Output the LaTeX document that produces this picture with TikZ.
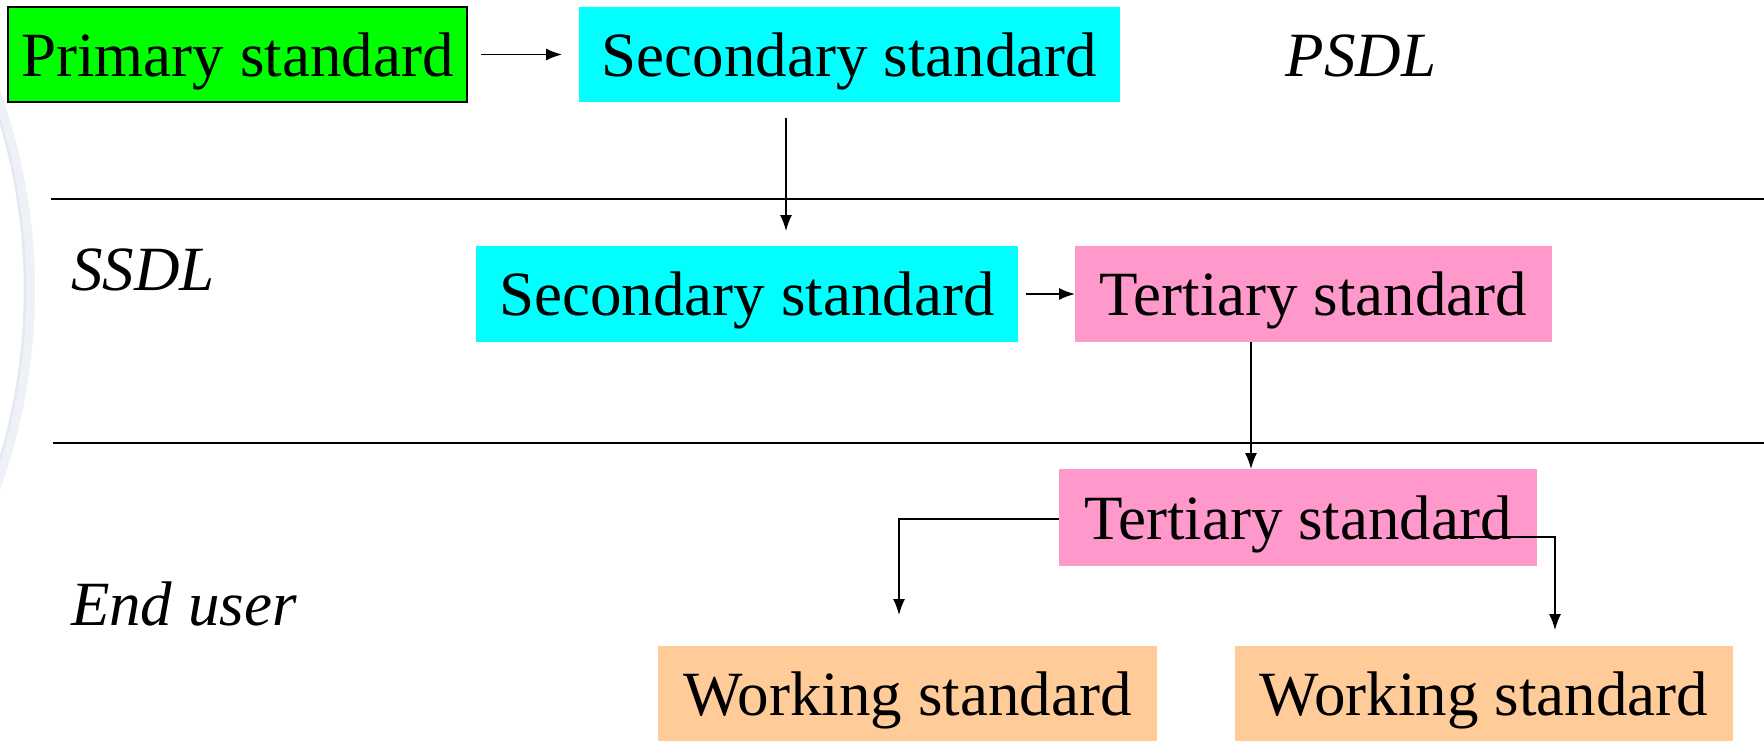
\documentclass[tikz,border=0pt]{standalone}
\usepackage{fontspec}
\setmainfont{Liberation Serif}
\usetikzlibrary{arrows.meta}
\definecolor{cgreen}{RGB}{0,255,0}
\definecolor{ccyan}{RGB}{0,255,255}
\definecolor{cpink}{RGB}{255,153,204}
\definecolor{corange}{RGB}{255,204,153}
\definecolor{wmark}{RGB}{238,242,247}
\definecolor{wmarkd}{RGB}{226,233,241}
\tikzset{
  stdbox/.style={inner sep=0pt, outer sep=0pt, font=\fontsize{63}{70}\selectfont, text depth=0pt},
  lbl/.style={inner sep=0pt, outer sep=0pt, font=\fontsize{63}{70}\selectfont\itshape},
  arr/.style={line width=1.5pt, -{Latex[length=16pt,width=12pt]}},
  divider/.style={line width=2pt},
}
\begin{document}
\begin{tikzpicture}[x=1pt,y=1pt]
\useasboundingbox (0,0) rectangle (1764,-741);
% faint watermark arc
\draw[wmark, line width=10pt] (-555,-290) ++(-20:585) arc[start angle=-20, end angle=20, radius=585];
\draw[wmarkd, line width=2.5pt] (-560,-290) ++(-19:585) arc[start angle=-19, end angle=19, radius=585];
% boxes
\node[stdbox, fill=cgreen, draw=black, line width=2pt, minimum width=459, minimum height=95] (prim) at (237.5,-54.5) {Primary standard};
\node[stdbox, fill=ccyan, minimum width=541, minimum height=95] (sec1) at (849.5,-54.5) {Secondary standard};
\node[lbl] (psdl) at (1361,-56) {PSDL};
\node[stdbox, fill=ccyan, minimum width=542, minimum height=96] (sec2) at (747,-294) {Secondary standard};
\node[stdbox, fill=cpink, minimum width=477, minimum height=96] (ter1) at (1313.5,-294) {Tertiary standard};
\node[stdbox, fill=cpink, minimum width=478, minimum height=97] (ter2) at (1298,-517.5) {Tertiary standard};
\node[stdbox, fill=corange, minimum width=499, minimum height=96] (work1) at (907.5,-694) {Working standard};
\node[stdbox, fill=corange, minimum width=498, minimum height=96] (work2) at (1484,-694) {Working standard};
\node[lbl, anchor=west] (ssdl) at (71,-270) {SSDL};
\node[lbl, anchor=west] (enduser) at (71,-604) {End user};
% dividers
\coordinate (d1a) at (51,-199);
\coordinate (d1b) at (1764,-199);
\coordinate (d2a) at (53,-443);
\coordinate (d2b) at (1764,-443);
\draw[divider] (d1a) -- (d1b);
\draw[divider] (d2a) -- (d2b);
% connectors
\draw[arr] ([xshift=14pt]prim.east) -- ([xshift=-17pt]sec1.west);
\draw[arr] ([shift={(-63.5pt,-16pt)}]sec1.south) -- ([shift={(39pt,15pt)}]sec2.north);
\draw[arr] ([xshift=8pt]sec2.east) -- (ter1.west);
\draw[arr] ([xshift=-62.5pt]ter1.south) -- ([xshift=-47pt]ter2.north);
\draw[arr] ([yshift=-1.5pt]ter2.west) -| ([shift={(-8.5pt,31pt)}]work1.north);
\draw[arr] ([shift={(142pt,-19.5pt)}]ter2.center) -| ([shift={(71pt,16pt)}]work2.north);
\end{tikzpicture}
\end{document}
